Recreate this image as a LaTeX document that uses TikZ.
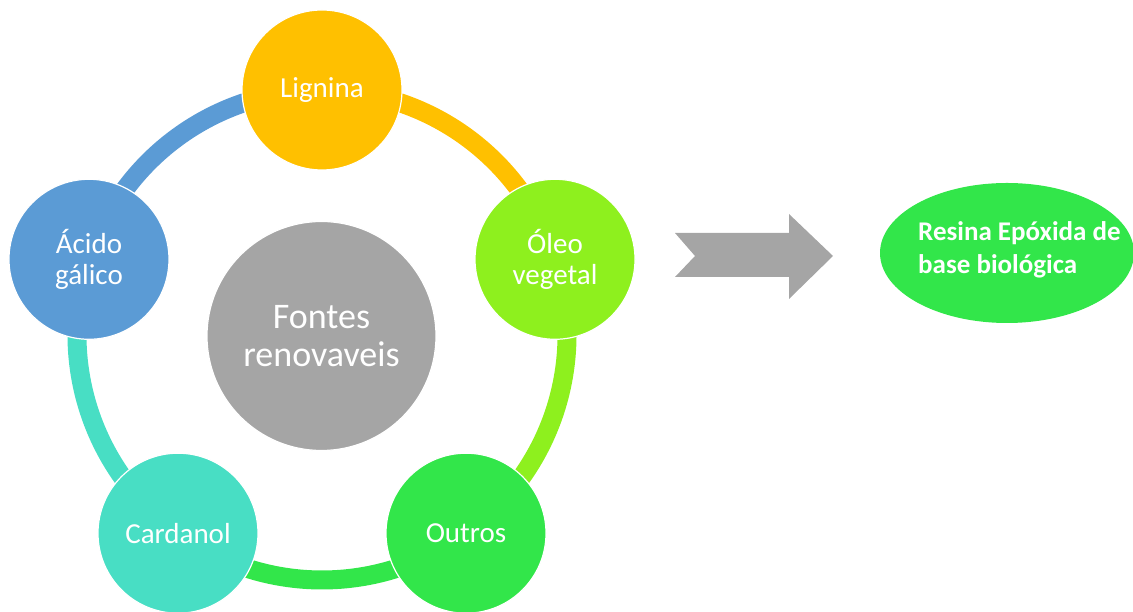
\documentclass[tikz,border=0pt]{standalone}
\usepackage{fontspec}
\setmainfont{Carlito}
\usetikzlibrary{positioning,calc,shapes.geometric}
\definecolor{frGold}{HTML}{FFC000}
\definecolor{frLime}{HTML}{8EF01E}
\definecolor{frGreen}{HTML}{32E64A}
\definecolor{frTeal}{HTML}{48DEC4}
\definecolor{frBlue}{HTML}{5B9BD5}
\definecolor{frGray}{HTML}{A5A5A5}

\begin{document}
\begin{tikzpicture}[x=1pt, y=1pt,
  src/.style={circle, fill=#1, draw=white, line width=1.2pt, minimum size=160pt, inner sep=0pt, align=center, text=white, font=\fontsize{29}{31}\selectfont},
  ringarc/.style={line width=19pt, draw=#1},
  core/.style={circle, fill=frGray, draw=white, line width=1.2pt, minimum size=229pt, inner sep=0pt, align=center, text=white, font=\fontsize{36}{38}\selectfont}]
\useasboundingbox (0,0) rectangle (1133,612);
\coordinate (c) at (322,277);

% anel entre as fontes
\foreach \a/\b/\col in {90/18/frGold, 18/-54/frLime, -54/-126/frGreen, -126/-198/frTeal, 162/90/frBlue}{
  \draw[ringarc=\col] ($(c)+(\a:245)$) arc[start angle=\a, end angle=\b, radius=245];}

\node[core] (fontes) at (321.5,276) {Fontes\\renovaveis};
\node[src=frGold]  (lig)    at ($(c)+(90:245)$)   {Lignina};
\node[src=frLime]  (oleo)   at ($(c)+(18:245)$)   {Óleo\\vegetal};
\node[src=frGreen] (outros) at ($(c)+(-54:245)$)  {Outros};
\node[src=frTeal]  (card)   at ($(c)+(-126:245)$) {Cardanol};
\node[src=frBlue]  (acido)  at ($(c)+(162:245)$)  {Ácido\\gálico};

% seta
\fill[frGray] (675,379) -- (789,379) -- (789,398) -- (833,356) -- (789,313)
  -- (789,335) -- (675,335) -- (695,356) -- cycle;

% produto
\node[ellipse, fill=frGreen, minimum width=254pt, minimum height=140pt, inner sep=0pt] (resina) at (1007,359) {};
\node[anchor=west, align=left, inner sep=0pt, text=white, font=\fontsize{27}{33}\selectfont\bfseries] (resinatxt) at (918,362)
  {Resina Epóxida de\\base biológica};
\end{tikzpicture}
\end{document}
